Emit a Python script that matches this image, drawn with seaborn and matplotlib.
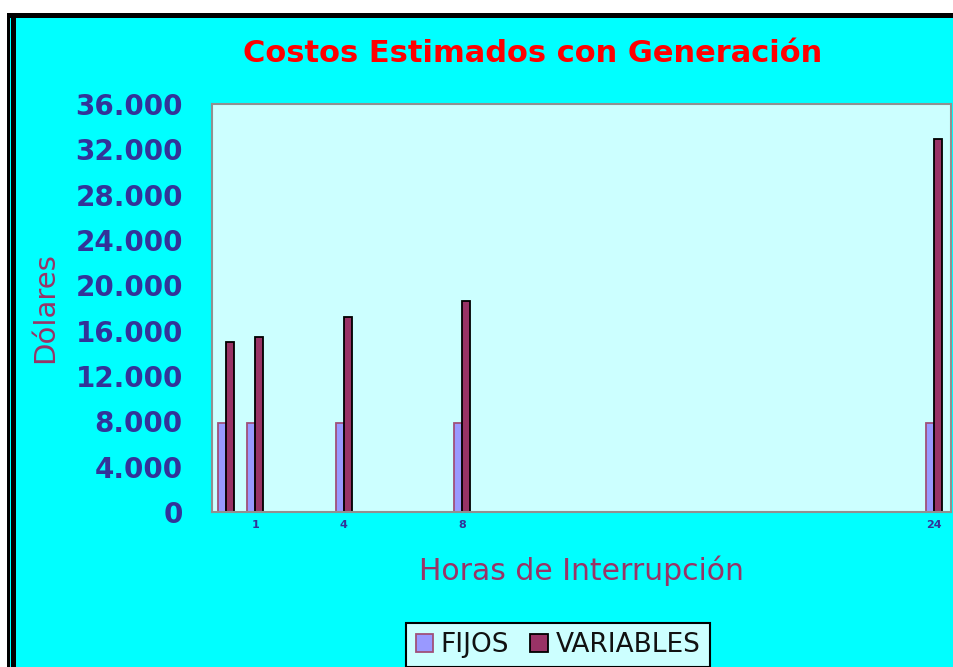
import matplotlib
matplotlib.use("Agg")
import matplotlib.pyplot as plt
from matplotlib.patches import Rectangle, Patch
from matplotlib.ticker import FuncFormatter
import pandas as pd
import seaborn as sns

# datos
horas = [0, 1, 4, 8, 24]
fijos = [7850, 7850, 7850, 7850, 7850]
variables = [15000, 15400, 17200, 18600, 32900]
series = ["FIJOS", "VARIABLES"]
x_ticks = [1, 4, 8, 24]
y_ticks = [0, 4000, 8000, 12000, 16000, 20000, 24000, 28000, 32000, 36000]

colores = ["#9999FF", "#993366"]
bordes = ["#A0507A", "black"]

df = pd.DataFrame({
    "horas": horas * 2,
    "serie": [series[0]] * len(horas) + [series[1]] * len(horas),
    "valor": fijos + variables,
})

sns.set_style("white")
plt.rcParams["font.family"] = ["DejaVu Sans"]

fig = plt.figure(figsize=(9.54, 6.67), dpi=100)
fig.patch.set_facecolor("#00FFFF")
W, H = 954, 667

# marco de la ventana original
def px_rect(x0, y0, x1, y1, color):
    fig.patches.append(Rectangle((x0 / W, 1 - y1 / H), (x1 - x0) / W, (y1 - y0) / H,
                                 transform=fig.transFigure, facecolor=color,
                                 edgecolor="none", zorder=0))

px_rect(0, 0, W, 13, "white")
px_rect(0, 0, 7, H, "white")
px_rect(7, 13, W, 18, "black")
px_rect(7, 13, 10, H, "black")
px_rect(11, 13, 16, H, "black")

ax = fig.add_axes([212 / W, 1 - 512 / H, (951 - 212) / W, 408 / H])
ax.set_facecolor("#CCFFFF")

sns.barplot(data=df, x="horas", y="valor", hue="serie", hue_order=series,
            palette=colores, saturation=1, native_scale=True, dodge=True, width=0.55,
            ax=ax, legend=False)

for cont, ec in zip(ax.containers, bordes):
    for p in cont:
        p.set_edgecolor(ec)
        p.set_linewidth(1.3)

ax.set_xlim(-0.47, 24.58)
ax.set_ylim(0, 36000)
ax.set_xticks(x_ticks)
ax.set_xticklabels([str(t) for t in x_ticks])
ax.set_yticks(y_ticks)
ax.yaxis.set_major_formatter(FuncFormatter(lambda v, pos: f"{int(v):,}".replace(",", ".")))
ax.tick_params(axis="y", length=0, pad=21, labelsize=20, labelcolor="#333399")
ax.tick_params(axis="x", length=0, pad=6, labelsize=8, labelcolor="#333399")
for lab in ax.get_yticklabels() + ax.get_xticklabels():
    lab.set_fontweight("bold")

for s in ax.spines.values():
    s.set_color("#909090")
    s.set_linewidth(1.5)

ax.set_xlabel("Horas de Interrupción", fontsize=21.5, color="#993366", labelpad=18)
ax.set_ylabel("Dólares", fontsize=21, color="#993366")
ax.yaxis.set_label_coords(-0.207, 0.5)

fig.text(533 / W, 1 - 53 / H, "Costos Estimados con Generación", ha="center", va="center",
         fontsize=22, fontweight="bold", color="#FF0000")

handles = [Patch(facecolor=c, edgecolor=e, linewidth=1.3) for c, e in zip(colores, bordes)]
leg = fig.legend(handles, series, loc="upper center", bbox_to_anchor=(558 / W, 1 - 623 / H),
                 ncol=2, fontsize=19, frameon=True, fancybox=False, handlelength=0.65,
                 handleheight=0.65, handletextpad=0.3, columnspacing=0.8, borderpad=0.35,
                 borderaxespad=0)
leg.get_frame().set_facecolor("#CCFFFF")
leg.get_frame().set_edgecolor("black")
leg.get_frame().set_linewidth(1.5)
leg.get_frame().set_alpha(1)
for t in leg.get_texts():
    t.set_color("#111111")

fig.savefig("out.png", dpi=100, facecolor=fig.get_facecolor())
